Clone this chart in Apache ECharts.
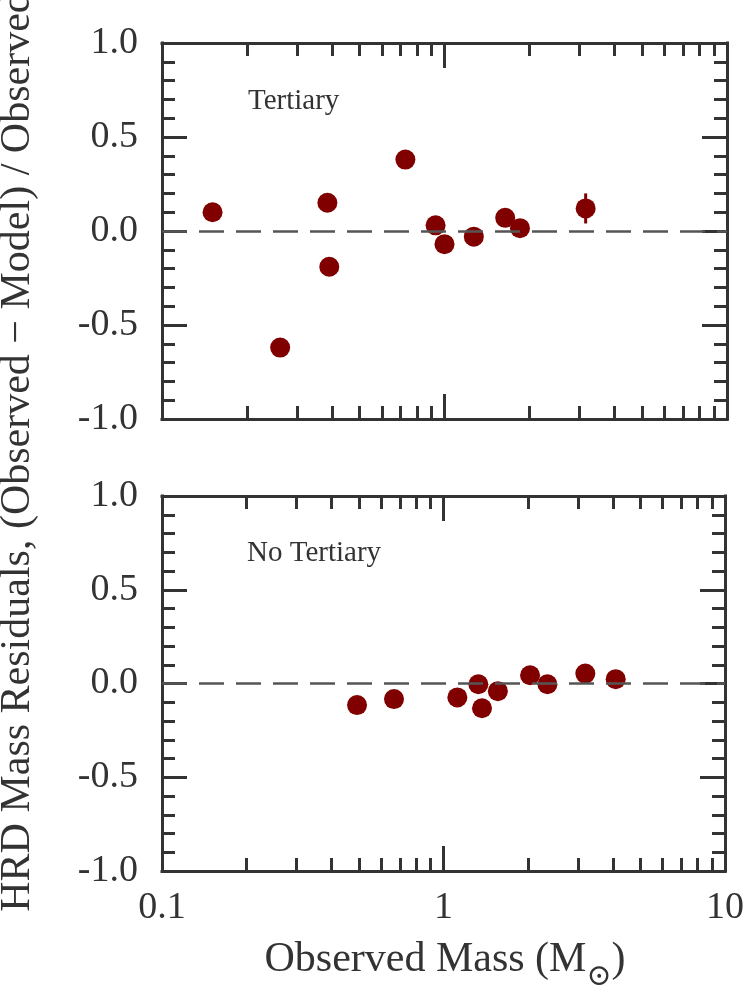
<!DOCTYPE html>
<html>
<head>
<meta charset="utf-8">
<title>HRD Mass Residuals</title>
<script src="https://cdn.jsdelivr.net/npm/echarts@6/dist/echarts.min.js"></script>
<style>
  html, body { margin: 0; padding: 0; background: #fff; }
  #chart { width: 747px; height: 991px; }
</style>
</head>
<body>
<div id="chart"></div>
<script>
// top panel: systems with a tertiary
const tertiaryMass = [0.151, 0.262, 0.385, 0.391, 0.727, 0.930, 1.00, 1.27, 1.64, 1.85, 3.16];
const tertiaryResid = [0.10, -0.62, 0.15, -0.19, 0.38, 0.03, -0.07, -0.03, 0.07, 0.015, 0.12];
// only one point has a visible error bar
const errMass = [3.16];
const errResid = [0.12];
const errSize = [0.08];

// bottom panel: no tertiary
const noTertMass = [0.493, 0.667, 1.12, 1.33, 1.37, 1.56, 2.03, 2.34, 3.19, 4.09];
const noTertResid = [-0.115, -0.083, -0.074, -0.004, -0.132, -0.041, 0.044, -0.004, 0.053, 0.023];

const minorMassTicks = [0.2, 0.3, 0.4, 0.5, 0.6, 0.7, 0.8, 0.9, 2, 3, 4, 5, 6, 7, 8, 9];
const panelLabels = ['Tertiary', 'No Tertiary'];

const ink = '#333';
const red = '#800000';
const serif = '"Liberation Serif", "Times New Roman", serif';

const chart = echarts.init(document.getElementById('chart'));

function massAxis(grid, position, major, labels) {
  return {
    type: 'log',
    logBase: 10,
    min: 0.1,
    max: 10,
    gridIndex: grid,
    position: position,
    axisLine: { show: major, onZero: false, lineStyle: { color: ink, width: 3, cap: 'square' } },
    axisTick: major
      ? { show: true, inside: true, length: 25, lineStyle: { color: ink, width: 3 } }
      : { show: true, inside: true, length: 13, customValues: minorMassTicks, lineStyle: { color: ink, width: 3 } },
    axisLabel: {
      show: labels,
      margin: 18,
      color: ink,
      fontFamily: serif,
      fontSize: 38,
      formatter: v => (v < 1 ? v.toFixed(1) : String(Math.round(v)))
    },
    splitLine: { show: false }
  };
}

function residAxis(grid, position, labels) {
  return {
    type: 'value',
    min: -1,
    max: 1,
    interval: 0.5,
    gridIndex: grid,
    position: position,
    axisLine: { show: true, onZero: false, lineStyle: { color: ink, width: 3, cap: 'square' } },
    axisTick: { show: true, inside: true, length: 25, lineStyle: { color: ink, width: 3 } },
    minorTick: { show: true, splitNumber: 5, length: 13, lineStyle: { color: ink, width: 3 } },
    axisLabel: {
      show: labels,
      margin: 24,
      color: ink,
      fontFamily: serif,
      fontSize: 38,
      formatter: v => v.toFixed(1)
    },
    splitLine: { show: false },
    minorSplitLine: { show: false }
  };
}

const zeroLine = {
  silent: true,
  symbol: 'none',
  label: { show: false },
  lineStyle: { color: '#555', width: 2.5, type: [25, 12] },
  data: [{ yAxis: 0 }]
};

chart.setOption({
  animation: false,
  grid: [
    { left: 162, top: 43, width: 565, height: 376 },
    { left: 162, top: 496, width: 565, height: 375 }
  ],
  xAxis: [
    massAxis(0, 'bottom', true, false),
    massAxis(0, 'bottom', false, false),
    massAxis(0, 'top', true, false),
    massAxis(0, 'top', false, false),
    massAxis(1, 'bottom', true, true),
    massAxis(1, 'bottom', false, false),
    massAxis(1, 'top', true, false),
    massAxis(1, 'top', false, false)
  ],
  yAxis: [
    residAxis(0, 'left', true),
    residAxis(0, 'right', false),
    residAxis(1, 'left', true),
    residAxis(1, 'right', false)
  ],
  series: [
    {
      type: 'custom',
      xAxisIndex: 0,
      yAxisIndex: 0,
      z: 1,
      data: errMass.map((m, i) => [m, errResid[i], errSize[i]]),
      renderItem: function (params, api) {
        const x = api.value(0), y = api.value(1), e = api.value(2);
        const lo = api.coord([x, y - e]);
        const hi = api.coord([x, y + e]);
        return {
          type: 'line',
          shape: { x1: lo[0], y1: lo[1], x2: hi[0], y2: hi[1] },
          style: { stroke: red, lineWidth: 3 }
        };
      }
    },
    {
      type: 'scatter',
      xAxisIndex: 0,
      yAxisIndex: 0,
      z: 3,
      symbolSize: 20,
      itemStyle: { color: red, opacity: 1 },
      data: tertiaryMass.map((m, i) => [m, tertiaryResid[i]]),
      markLine: zeroLine
    },
    {
      type: 'scatter',
      xAxisIndex: 4,
      yAxisIndex: 2,
      z: 3,
      symbolSize: 20,
      itemStyle: { color: red, opacity: 1 },
      data: noTertMass.map((m, i) => [m, noTertResid[i]]),
      markLine: zeroLine
    }
  ],
  graphic: [
    {
      type: 'text', x: 248, y: 101,
      style: { text: panelLabels[0], fill: ink, font: '29px ' + serif, textVerticalAlign: 'middle' }
    },
    {
      type: 'text', x: 247, y: 553,
      style: { text: panelLabels[1], fill: ink, font: '29px ' + serif, textVerticalAlign: 'middle' }
    },
    {
      // y axis title, shared by both panels
      type: 'text', x: 18, y: 452, rotation: Math.PI / 2,
      style: {
        text: 'HRD Mass Residuals, (Observed \u2212 Model) / Observed',
        fill: ink, font: '42px ' + serif,
        textAlign: 'center', textVerticalAlign: 'middle'
      }
    },
    {
      type: 'text', x: 445, y: 960,
      style: {
        text: '{m|Observed Mass (M}{sub|\u2299}{m|)}',
        fill: ink, textAlign: 'center', textVerticalAlign: 'middle',
        rich: {
          m: { fontFamily: serif, fontSize: 42, lineHeight: 64, fill: ink },
          sub: { fontFamily: '"DejaVu Serif", serif', fontSize: 30, lineHeight: 30, verticalAlign: 'bottom', fill: ink }
        }
      }
    }
  ]
});
</script>
</body>
</html>
